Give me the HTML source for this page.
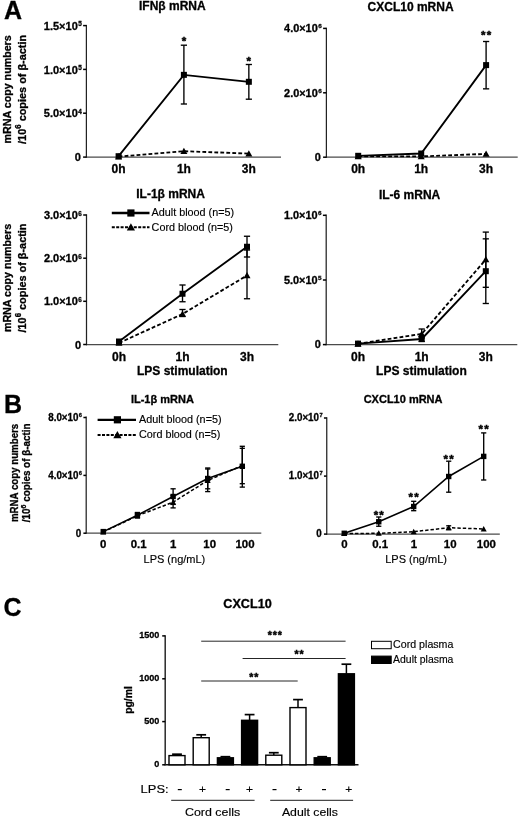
<!DOCTYPE html>
<html><head><meta charset="utf-8"><title>Figure</title>
<style>html,body{margin:0;padding:0;background:#fff}svg{display:block}text{font-family:"Liberation Sans",Arial,sans-serif;fill:#000}text{stroke:#000;stroke-width:.15px}text[font-weight=bold]{stroke-width:.3px}</style>
</head><body>
<svg width="520" height="818" viewBox="0 0 520 818">
<rect width="520" height="818" fill="#fff"/>
<text x="4" y="18.5" font-size="25" font-weight="bold" text-anchor="start">A</text>
<text x="4" y="412.7" font-size="25" font-weight="bold" text-anchor="start">B</text>
<text x="3.5" y="616" font-size="25" font-weight="bold" text-anchor="start">C</text>
<text x="172.3" y="9.6" font-size="12" font-weight="bold" text-anchor="middle">IFNβ mRNA</text>
<line x1="85.80000000000001" y1="157.1" x2="281" y2="157.1" stroke="#4a4a4a" stroke-width="1.3"/>
<line x1="86.4" y1="24.900000000000002" x2="86.4" y2="157.65" stroke="#222" stroke-width="1.25"/>
<line x1="83.10000000000001" y1="25.6" x2="86.4" y2="25.6" stroke="#000" stroke-width="1.5"/>
<text transform="translate(81.7,29.78) scale(1.0,1)" font-size="11" font-weight="bold" text-anchor="end">1.5×10<tspan dx="0.4" dy="-3.30" font-size="6.38">5</tspan></text>
<line x1="83.10000000000001" y1="69.4" x2="86.4" y2="69.4" stroke="#000" stroke-width="1.5"/>
<text transform="translate(81.7,73.58) scale(1.0,1)" font-size="11" font-weight="bold" text-anchor="end">1.0×10<tspan dx="0.4" dy="-3.30" font-size="6.38">5</tspan></text>
<line x1="83.10000000000001" y1="113.2" x2="86.4" y2="113.2" stroke="#000" stroke-width="1.5"/>
<text transform="translate(81.7,117.38) scale(1.0,1)" font-size="11" font-weight="bold" text-anchor="end">5.0×10<tspan dx="0.4" dy="-3.30" font-size="6.38">4</tspan></text>
<line x1="83.10000000000001" y1="157.1" x2="86.4" y2="157.1" stroke="#000" stroke-width="1.5"/>
<text transform="translate(80.9,161.28) scale(1.0,1)" font-size="11" font-weight="bold" text-anchor="end">0</text>
<text transform="translate(11.0,89.4) rotate(-90)" font-size="11.3" font-weight="bold" text-anchor="middle" textLength="108.2" lengthAdjust="spacingAndGlyphs">mRNA copy numbers</text>
<text transform="translate(26,89.4) rotate(-90)" font-size="11.3" font-weight="bold" text-anchor="middle" textLength="109" lengthAdjust="spacingAndGlyphs">/10<tspan dy="-4.52" font-size="8.14">6</tspan><tspan dy="4.52"> copies of β-actin</tspan></text>
<line x1="183.9" y1="45.2" x2="183.9" y2="104" stroke="#000" stroke-width="1.35"/>
<line x1="180.8" y1="45.2" x2="187.0" y2="45.2" stroke="#000" stroke-width="1.35"/>
<line x1="180.8" y1="104" x2="187.0" y2="104" stroke="#000" stroke-width="1.35"/>
<line x1="248.85" y1="64.5" x2="248.85" y2="99.2" stroke="#000" stroke-width="1.35"/>
<line x1="245.75" y1="64.5" x2="251.95" y2="64.5" stroke="#000" stroke-width="1.35"/>
<line x1="245.75" y1="99.2" x2="251.95" y2="99.2" stroke="#000" stroke-width="1.35"/>
<polyline points="118.6,156.2 183.9,74.85 248.85,81.8" fill="none" stroke="#000" stroke-width="1.85"/>
<rect x="115.6" y="153.2" width="6.0" height="6.0" fill="#000"/>
<rect x="180.9" y="71.85" width="6.0" height="6.0" fill="#000"/>
<rect x="245.85" y="78.8" width="6.0" height="6.0" fill="#000"/>
<polyline points="118.6,156.6 183.9,151.2 248.85,153.6" fill="none" stroke="#000" stroke-width="1.85" stroke-dasharray="3.8 2.2"/>
<polygon points="118.6,153.135 115.1,159.435 122.1,159.435" fill="#000"/>
<polygon points="183.9,147.73499999999999 180.4,154.035 187.4,154.035" fill="#000"/>
<polygon points="248.85,150.135 245.35,156.435 252.35,156.435" fill="#000"/>
<text x="183.9" y="44.9" font-size="11.5" font-weight="bold" text-anchor="middle" style="stroke-width:.45px">*</text>
<text x="248.85" y="65.2" font-size="11.5" font-weight="bold" text-anchor="middle" style="stroke-width:.45px">*</text>
<text x="118.6" y="173.1" font-size="12" font-weight="bold" text-anchor="middle">0h</text>
<text x="183.9" y="173.1" font-size="12" font-weight="bold" text-anchor="middle">1h</text>
<text x="248.85" y="173.1" font-size="12" font-weight="bold" text-anchor="middle">3h</text>
<text x="410.6" y="10.6" font-size="12" font-weight="bold" text-anchor="middle">CXCL10 mRNA</text>
<line x1="325.79999999999995" y1="157.2" x2="517.7" y2="157.2" stroke="#4a4a4a" stroke-width="1.3"/>
<line x1="326.4" y1="27.7" x2="326.4" y2="157.75" stroke="#222" stroke-width="1.25"/>
<line x1="323.09999999999997" y1="28.4" x2="326.4" y2="28.4" stroke="#000" stroke-width="1.5"/>
<text transform="translate(321.7,32.28) scale(1.07,1)" font-size="10.2" font-weight="bold" text-anchor="end">4.0×10<tspan dx="0.4" dy="-4.08" font-size="5.92">6</tspan></text>
<line x1="323.09999999999997" y1="92.8" x2="326.4" y2="92.8" stroke="#000" stroke-width="1.5"/>
<text transform="translate(321.7,96.68) scale(1.07,1)" font-size="10.2" font-weight="bold" text-anchor="end">2.0×10<tspan dx="0.4" dy="-4.08" font-size="5.92">6</tspan></text>
<line x1="323.09999999999997" y1="157.2" x2="326.4" y2="157.2" stroke="#000" stroke-width="1.5"/>
<text transform="translate(320.9,161.08) scale(1.07,1)" font-size="10.2" font-weight="bold" text-anchor="end">0</text>
<line x1="486.1" y1="41.5" x2="486.1" y2="88.85" stroke="#000" stroke-width="1.35"/>
<line x1="483.0" y1="41.5" x2="489.20000000000005" y2="41.5" stroke="#000" stroke-width="1.35"/>
<line x1="483.0" y1="88.85" x2="489.20000000000005" y2="88.85" stroke="#000" stroke-width="1.35"/>
<polyline points="358.2,155.8 421.2,153.5 486.1,65.1" fill="none" stroke="#000" stroke-width="1.85"/>
<rect x="355.2" y="152.8" width="6.0" height="6.0" fill="#000"/>
<rect x="418.2" y="150.5" width="6.0" height="6.0" fill="#000"/>
<rect x="483.1" y="62.099999999999994" width="6.0" height="6.0" fill="#000"/>
<polyline points="358.2,156.4 421.2,156.4 486.1,153.9" fill="none" stroke="#000" stroke-width="1.85" stroke-dasharray="3.8 2.2"/>
<polygon points="358.2,152.935 354.7,159.235 361.7,159.235" fill="#000"/>
<polygon points="421.2,152.935 417.7,159.235 424.7,159.235" fill="#000"/>
<polygon points="486.1,150.435 482.6,156.735 489.6,156.735" fill="#000"/>
<text x="486.725" y="38.8" font-size="11.5" font-weight="bold" text-anchor="middle" letter-spacing="1.25" style="stroke-width:.45px">**</text>
<text x="358.2" y="173.1" font-size="12" font-weight="bold" text-anchor="middle">0h</text>
<text x="421.2" y="173.1" font-size="12" font-weight="bold" text-anchor="middle">1h</text>
<text x="486.1" y="173.1" font-size="12" font-weight="bold" text-anchor="middle">3h</text>
<text x="170.6" y="198.2" font-size="12" font-weight="bold" text-anchor="middle">IL-1β mRNA</text>
<line x1="85.9" y1="344.7" x2="278.3" y2="344.7" stroke="#4a4a4a" stroke-width="1.3"/>
<line x1="86.5" y1="214.3" x2="86.5" y2="345.25" stroke="#222" stroke-width="1.25"/>
<line x1="83.2" y1="215" x2="86.5" y2="215" stroke="#000" stroke-width="1.5"/>
<text transform="translate(81.8,219.18) scale(1.0,1)" font-size="11" font-weight="bold" text-anchor="end">3.0×10<tspan dx="0.4" dy="-3.30" font-size="6.38">6</tspan></text>
<line x1="83.2" y1="258.2" x2="86.5" y2="258.2" stroke="#000" stroke-width="1.5"/>
<text transform="translate(81.8,262.38) scale(1.0,1)" font-size="11" font-weight="bold" text-anchor="end">2.0×10<tspan dx="0.4" dy="-3.30" font-size="6.38">6</tspan></text>
<line x1="83.2" y1="301.3" x2="86.5" y2="301.3" stroke="#000" stroke-width="1.5"/>
<text transform="translate(81.8,305.48) scale(1.0,1)" font-size="11" font-weight="bold" text-anchor="end">1.0×10<tspan dx="0.4" dy="-3.30" font-size="6.38">6</tspan></text>
<line x1="83.2" y1="344.5" x2="86.5" y2="344.5" stroke="#000" stroke-width="1.5"/>
<text transform="translate(81.0,348.68) scale(1.0,1)" font-size="11" font-weight="bold" text-anchor="end">0</text>
<text transform="translate(11.0,278) rotate(-90)" font-size="11.3" font-weight="bold" text-anchor="middle" textLength="108.2" lengthAdjust="spacingAndGlyphs">mRNA copy numbers</text>
<text transform="translate(26,278) rotate(-90)" font-size="11.3" font-weight="bold" text-anchor="middle" textLength="109" lengthAdjust="spacingAndGlyphs">/10<tspan dy="-4.52" font-size="8.14">6</tspan><tspan dy="4.52"> copies of β-actin</tspan></text>
<line x1="182.5" y1="285" x2="182.5" y2="301.75" stroke="#000" stroke-width="1.35"/>
<line x1="179.4" y1="285" x2="185.6" y2="285" stroke="#000" stroke-width="1.35"/>
<line x1="179.4" y1="301.75" x2="185.6" y2="301.75" stroke="#000" stroke-width="1.35"/>
<line x1="247" y1="236.25" x2="247" y2="257" stroke="#000" stroke-width="1.35"/>
<line x1="243.9" y1="236.25" x2="250.1" y2="236.25" stroke="#000" stroke-width="1.35"/>
<line x1="243.9" y1="257" x2="250.1" y2="257" stroke="#000" stroke-width="1.35"/>
<line x1="182.5" y1="309.5" x2="182.5" y2="316.5" stroke="#000" stroke-width="1.35"/>
<line x1="179.4" y1="309.5" x2="185.6" y2="309.5" stroke="#000" stroke-width="1.35"/>
<line x1="179.4" y1="316.5" x2="185.6" y2="316.5" stroke="#000" stroke-width="1.35"/>
<line x1="247" y1="250" x2="247" y2="298.75" stroke="#000" stroke-width="1.35"/>
<line x1="243.9" y1="250" x2="250.1" y2="250" stroke="#000" stroke-width="1.35"/>
<line x1="243.9" y1="298.75" x2="250.1" y2="298.75" stroke="#000" stroke-width="1.35"/>
<polyline points="119,341.5 182.5,293.75 247,246.75" fill="none" stroke="#000" stroke-width="1.85"/>
<rect x="116.0" y="338.5" width="6.0" height="6.0" fill="#000"/>
<rect x="179.5" y="290.75" width="6.0" height="6.0" fill="#000"/>
<rect x="244.0" y="243.75" width="6.0" height="6.0" fill="#000"/>
<polyline points="119,343 182.5,314 247,275.5" fill="none" stroke="#000" stroke-width="1.85" stroke-dasharray="3.8 2.2"/>
<polygon points="119,339.535 115.5,345.835 122.5,345.835" fill="#000"/>
<polygon points="182.5,310.535 179.0,316.835 186.0,316.835" fill="#000"/>
<polygon points="247,272.035 243.5,278.335 250.5,278.335" fill="#000"/>
<text x="119" y="360.8" font-size="12" font-weight="bold" text-anchor="middle">0h</text>
<text x="182.5" y="360.8" font-size="12" font-weight="bold" text-anchor="middle">1h</text>
<text x="247" y="360.8" font-size="12" font-weight="bold" text-anchor="middle">3h</text>
<text x="182.3" y="375" font-size="12" font-weight="bold" text-anchor="middle">LPS stimulation</text>
<line x1="111.8" y1="213" x2="149.5" y2="213" stroke="#000" stroke-width="2.3"/>
<rect x="127.30000000000001" y="209.4" width="7.2" height="7.2" fill="#000"/>
<text x="151.6" y="216.3" font-size="10.8" text-anchor="start">Adult blood (n=5)</text>
<line x1="111.8" y1="227.3" x2="149.5" y2="227.3" stroke="#000" stroke-width="2.1" stroke-dasharray="3 1.4"/>
<polygon points="130.9,223.241 126.80000000000001,230.621 135.0,230.621" fill="#000"/>
<text x="151.6" y="231.3" font-size="10.8" text-anchor="start">Cord blood (n=5)</text>
<text x="409.6" y="199.3" font-size="12" font-weight="bold" text-anchor="middle">IL-6 mRNA</text>
<line x1="325.59999999999997" y1="344.6" x2="517.3" y2="344.6" stroke="#4a4a4a" stroke-width="1.3"/>
<line x1="326.2" y1="214.60000000000002" x2="326.2" y2="345.15000000000003" stroke="#222" stroke-width="1.25"/>
<line x1="322.9" y1="215.3" x2="326.2" y2="215.3" stroke="#000" stroke-width="1.5"/>
<text transform="translate(321.5,219.18) scale(1.07,1)" font-size="10.2" font-weight="bold" text-anchor="end">1.0×10<tspan dx="0.4" dy="-4.08" font-size="5.92">6</tspan></text>
<line x1="322.9" y1="280" x2="326.2" y2="280" stroke="#000" stroke-width="1.5"/>
<text transform="translate(321.5,283.88) scale(1.07,1)" font-size="10.2" font-weight="bold" text-anchor="end">5.0×10<tspan dx="0.4" dy="-4.08" font-size="5.92">5</tspan></text>
<line x1="322.9" y1="344.6" x2="326.2" y2="344.6" stroke="#000" stroke-width="1.5"/>
<text transform="translate(320.7,348.48) scale(1.07,1)" font-size="10.2" font-weight="bold" text-anchor="end">0</text>
<line x1="485.8" y1="238.85" x2="485.8" y2="303.5" stroke="#000" stroke-width="1.35"/>
<line x1="482.7" y1="238.85" x2="488.90000000000003" y2="238.85" stroke="#000" stroke-width="1.35"/>
<line x1="482.7" y1="303.5" x2="488.90000000000003" y2="303.5" stroke="#000" stroke-width="1.35"/>
<line x1="485.8" y1="232.1" x2="485.8" y2="287.3" stroke="#000" stroke-width="1.35"/>
<line x1="482.7" y1="232.1" x2="488.90000000000003" y2="232.1" stroke="#000" stroke-width="1.35"/>
<line x1="482.7" y1="287.3" x2="488.90000000000003" y2="287.3" stroke="#000" stroke-width="1.35"/>
<line x1="421.7" y1="329" x2="421.7" y2="338" stroke="#000" stroke-width="1.35"/>
<line x1="418.59999999999997" y1="329" x2="424.8" y2="329" stroke="#000" stroke-width="1.35"/>
<line x1="418.59999999999997" y1="338" x2="424.8" y2="338" stroke="#000" stroke-width="1.35"/>
<line x1="421.7" y1="336.5" x2="421.7" y2="341.5" stroke="#000" stroke-width="1.35"/>
<line x1="418.59999999999997" y1="336.5" x2="424.8" y2="336.5" stroke="#000" stroke-width="1.35"/>
<line x1="418.59999999999997" y1="341.5" x2="424.8" y2="341.5" stroke="#000" stroke-width="1.35"/>
<polyline points="358,343.6 421.7,339 485.8,271.2" fill="none" stroke="#000" stroke-width="1.85"/>
<rect x="355.0" y="340.6" width="6.0" height="6.0" fill="#000"/>
<rect x="418.7" y="336.0" width="6.0" height="6.0" fill="#000"/>
<rect x="482.8" y="268.2" width="6.0" height="6.0" fill="#000"/>
<polyline points="358,343.8 421.7,333.9 485.8,259.5" fill="none" stroke="#000" stroke-width="1.85" stroke-dasharray="3.8 2.2"/>
<polygon points="358,340.33500000000004 354.5,346.635 361.5,346.635" fill="#000"/>
<polygon points="421.7,330.435 418.2,336.73499999999996 425.2,336.73499999999996" fill="#000"/>
<polygon points="485.8,256.035 482.3,262.335 489.3,262.335" fill="#000"/>
<text x="358" y="360.6" font-size="12" font-weight="bold" text-anchor="middle">0h</text>
<text x="421.7" y="360.6" font-size="12" font-weight="bold" text-anchor="middle">1h</text>
<text x="485.8" y="360.6" font-size="12" font-weight="bold" text-anchor="middle">3h</text>
<text x="421.4" y="374.5" font-size="12" font-weight="bold" text-anchor="middle">LPS stimulation</text>
<text x="162.4" y="403" font-size="11" font-weight="bold" text-anchor="middle">IL-1β mRNA</text>
<line x1="85.60000000000001" y1="533.2" x2="261.3" y2="533.2" stroke="#4a4a4a" stroke-width="1.3"/>
<line x1="86.2" y1="416.40000000000003" x2="86.2" y2="533.75" stroke="#222" stroke-width="1.25"/>
<line x1="83.4" y1="417.5" x2="86.2" y2="417.5" stroke="#000" stroke-width="1.5"/>
<text transform="translate(82.0,420.80) scale(0.98,1)" font-size="10" font-weight="bold" text-anchor="end">8.0×10<tspan dx="0.4" dy="-4.00" font-size="5.80">6</tspan></text>
<line x1="83.4" y1="475.4" x2="86.2" y2="475.4" stroke="#000" stroke-width="1.5"/>
<text transform="translate(82.0,478.70) scale(0.98,1)" font-size="10" font-weight="bold" text-anchor="end">4.0×10<tspan dx="0.4" dy="-4.00" font-size="5.80">6</tspan></text>
<line x1="83.4" y1="533.2" x2="86.2" y2="533.2" stroke="#000" stroke-width="1.5"/>
<text transform="translate(81.2,536.50) scale(0.98,1)" font-size="10" font-weight="bold" text-anchor="end">0</text>
<text transform="translate(17.8,472.9) rotate(-90)" font-size="10.2" font-weight="bold" text-anchor="middle" textLength="98.2" lengthAdjust="spacingAndGlyphs">mRNA copy numbers</text>
<text transform="translate(29.9,472.9) rotate(-90)" font-size="10.2" font-weight="bold" text-anchor="middle" textLength="98.7" lengthAdjust="spacingAndGlyphs">/10<tspan dy="-4.08" font-size="7.34">6</tspan><tspan dy="4.08"> copies of β-actin</tspan></text>
<line x1="137.4" y1="512.5" x2="137.4" y2="518" stroke="#000" stroke-width="1.35"/>
<line x1="134.8" y1="512.5" x2="140.0" y2="512.5" stroke="#000" stroke-width="1.35"/>
<line x1="134.8" y1="518" x2="140.0" y2="518" stroke="#000" stroke-width="1.35"/>
<line x1="173.1" y1="488.8" x2="173.1" y2="504.4" stroke="#000" stroke-width="1.35"/>
<line x1="170.5" y1="488.8" x2="175.7" y2="488.8" stroke="#000" stroke-width="1.35"/>
<line x1="170.5" y1="504.4" x2="175.7" y2="504.4" stroke="#000" stroke-width="1.35"/>
<line x1="207.7" y1="468" x2="207.7" y2="488.8" stroke="#000" stroke-width="1.35"/>
<line x1="205.1" y1="468" x2="210.29999999999998" y2="468" stroke="#000" stroke-width="1.35"/>
<line x1="205.1" y1="488.8" x2="210.29999999999998" y2="488.8" stroke="#000" stroke-width="1.35"/>
<line x1="242.3" y1="446.3" x2="242.3" y2="483.7" stroke="#000" stroke-width="1.35"/>
<line x1="239.70000000000002" y1="446.3" x2="244.9" y2="446.3" stroke="#000" stroke-width="1.35"/>
<line x1="239.70000000000002" y1="483.7" x2="244.9" y2="483.7" stroke="#000" stroke-width="1.35"/>
<line x1="173.1" y1="495.5" x2="173.1" y2="507.9" stroke="#000" stroke-width="1.35"/>
<line x1="170.5" y1="495.5" x2="175.7" y2="495.5" stroke="#000" stroke-width="1.35"/>
<line x1="170.5" y1="507.9" x2="175.7" y2="507.9" stroke="#000" stroke-width="1.35"/>
<line x1="207.7" y1="469" x2="207.7" y2="491.6" stroke="#000" stroke-width="1.35"/>
<line x1="205.1" y1="469" x2="210.29999999999998" y2="469" stroke="#000" stroke-width="1.35"/>
<line x1="205.1" y1="491.6" x2="210.29999999999998" y2="491.6" stroke="#000" stroke-width="1.35"/>
<line x1="242.3" y1="448.3" x2="242.3" y2="487.1" stroke="#000" stroke-width="1.35"/>
<line x1="239.70000000000002" y1="448.3" x2="244.9" y2="448.3" stroke="#000" stroke-width="1.35"/>
<line x1="239.70000000000002" y1="487.1" x2="244.9" y2="487.1" stroke="#000" stroke-width="1.35"/>
<polyline points="103.25,531.6 137.4,515.3 173.1,496.5 207.7,478.5 242.3,466.3" fill="none" stroke="#000" stroke-width="1.6"/>
<rect x="100.55" y="528.9" width="5.4" height="5.4" fill="#000"/>
<rect x="134.70000000000002" y="512.5999999999999" width="5.4" height="5.4" fill="#000"/>
<rect x="170.4" y="493.8" width="5.4" height="5.4" fill="#000"/>
<rect x="205.0" y="475.8" width="5.4" height="5.4" fill="#000"/>
<rect x="239.60000000000002" y="463.6" width="5.4" height="5.4" fill="#000"/>
<polyline points="103.25,532 137.4,515.8 173.1,502.2 207.7,480.5 242.3,465.5" fill="none" stroke="#000" stroke-width="1.5" stroke-dasharray="3.4 2"/>
<polygon points="103.25,529.03 100.25,534.43 106.25,534.43" fill="#000"/>
<polygon points="137.4,512.8299999999999 134.4,518.2299999999999 140.4,518.2299999999999" fill="#000"/>
<polygon points="173.1,499.22999999999996 170.1,504.63 176.1,504.63" fill="#000"/>
<polygon points="207.7,477.53 204.7,482.93 210.7,482.93" fill="#000"/>
<polygon points="242.3,462.53 239.3,467.93 245.3,467.93" fill="#000"/>
<text x="103.3" y="547.7" font-size="11" font-weight="bold" text-anchor="middle" textLength="6.36" lengthAdjust="spacingAndGlyphs">0</text>
<text x="138.6" y="547.7" font-size="11" font-weight="bold" text-anchor="middle" textLength="15.90" lengthAdjust="spacingAndGlyphs">0.1</text>
<text x="173.2" y="547.7" font-size="11" font-weight="bold" text-anchor="middle" textLength="6.36" lengthAdjust="spacingAndGlyphs">1</text>
<text x="209.7" y="547.7" font-size="11" font-weight="bold" text-anchor="middle" textLength="12.72" lengthAdjust="spacingAndGlyphs">10</text>
<text x="245" y="547.7" font-size="11" font-weight="bold" text-anchor="middle" textLength="19.09" lengthAdjust="spacingAndGlyphs">100</text>
<text x="174.4" y="562.6" font-size="11" text-anchor="middle">LPS (ng/mL)</text>
<line x1="97.6" y1="419.8" x2="136" y2="419.8" stroke="#000" stroke-width="2.3"/>
<rect x="113.80000000000001" y="416.2" width="7.2" height="7.2" fill="#000"/>
<text x="139" y="422.6" font-size="10.8" text-anchor="start">Adult blood (n=5)</text>
<line x1="97.6" y1="435" x2="136" y2="435" stroke="#000" stroke-width="2.1" stroke-dasharray="3 1.4"/>
<polygon points="117.4,430.941 113.30000000000001,438.321 121.5,438.321" fill="#000"/>
<text x="139" y="438" font-size="10.8" text-anchor="start">Cord blood (n=5)</text>
<text x="403.1" y="403.1" font-size="11" font-weight="bold" text-anchor="middle">CXCL10 mRNA</text>
<line x1="326.15" y1="534.1" x2="499.8" y2="534.1" stroke="#4a4a4a" stroke-width="1.3"/>
<line x1="326.75" y1="417.3" x2="326.75" y2="534.65" stroke="#222" stroke-width="1.25"/>
<line x1="323.95" y1="418" x2="326.75" y2="418" stroke="#000" stroke-width="1.5"/>
<text transform="translate(322.55,421.30) scale(0.98,1)" font-size="10" font-weight="bold" text-anchor="end">2.0×10<tspan dx="0.4" dy="-4.00" font-size="5.80">7</tspan></text>
<line x1="323.95" y1="476.1" x2="326.75" y2="476.1" stroke="#000" stroke-width="1.5"/>
<text transform="translate(322.55,479.40) scale(0.98,1)" font-size="10" font-weight="bold" text-anchor="end">1.0×10<tspan dx="0.4" dy="-4.00" font-size="5.80">7</tspan></text>
<line x1="323.95" y1="534.1" x2="326.75" y2="534.1" stroke="#000" stroke-width="1.5"/>
<text transform="translate(321.75,537.40) scale(0.98,1)" font-size="10" font-weight="bold" text-anchor="end">0</text>
<line x1="378.75" y1="517" x2="378.75" y2="526.25" stroke="#000" stroke-width="1.35"/>
<line x1="376.15" y1="517" x2="381.35" y2="517" stroke="#000" stroke-width="1.35"/>
<line x1="376.15" y1="526.25" x2="381.35" y2="526.25" stroke="#000" stroke-width="1.35"/>
<line x1="413.7" y1="501.3" x2="413.7" y2="510.7" stroke="#000" stroke-width="1.35"/>
<line x1="411.09999999999997" y1="501.3" x2="416.3" y2="501.3" stroke="#000" stroke-width="1.35"/>
<line x1="411.09999999999997" y1="510.7" x2="416.3" y2="510.7" stroke="#000" stroke-width="1.35"/>
<line x1="448.7" y1="461.2" x2="448.7" y2="492.2" stroke="#000" stroke-width="1.35"/>
<line x1="446.09999999999997" y1="461.2" x2="451.3" y2="461.2" stroke="#000" stroke-width="1.35"/>
<line x1="446.09999999999997" y1="492.2" x2="451.3" y2="492.2" stroke="#000" stroke-width="1.35"/>
<line x1="483.7" y1="432.9" x2="483.7" y2="480" stroke="#000" stroke-width="1.35"/>
<line x1="481.09999999999997" y1="432.9" x2="486.3" y2="432.9" stroke="#000" stroke-width="1.35"/>
<line x1="481.09999999999997" y1="480" x2="486.3" y2="480" stroke="#000" stroke-width="1.35"/>
<line x1="448.7" y1="525.8" x2="448.7" y2="529.6" stroke="#000" stroke-width="1.35"/>
<line x1="446.2" y1="525.8" x2="451.2" y2="525.8" stroke="#000" stroke-width="1.35"/>
<line x1="446.2" y1="529.6" x2="451.2" y2="529.6" stroke="#000" stroke-width="1.35"/>
<polyline points="344.25,533.3 378.75,521.75 413.7,506.5 448.7,476.5 483.7,456.4" fill="none" stroke="#000" stroke-width="1.6"/>
<rect x="341.55" y="530.5999999999999" width="5.4" height="5.4" fill="#000"/>
<rect x="376.05" y="519.05" width="5.4" height="5.4" fill="#000"/>
<rect x="411.0" y="503.8" width="5.4" height="5.4" fill="#000"/>
<rect x="446.0" y="473.8" width="5.4" height="5.4" fill="#000"/>
<rect x="481.0" y="453.7" width="5.4" height="5.4" fill="#000"/>
<polyline points="344.25,533.6 378.75,533.3 413.7,531.7 448.7,527.7 483.7,529" fill="none" stroke="#000" stroke-width="1.5" stroke-dasharray="3.4 2"/>
<polygon points="344.25,530.63 341.25,536.03 347.25,536.03" fill="#000"/>
<polygon points="378.75,530.3299999999999 375.75,535.7299999999999 381.75,535.7299999999999" fill="#000"/>
<polygon points="413.7,528.73 410.7,534.13 416.7,534.13" fill="#000"/>
<polygon points="448.7,524.73 445.7,530.13 451.7,530.13" fill="#000"/>
<polygon points="483.7,526.03 480.7,531.43 486.7,531.43" fill="#000"/>
<text x="379.375" y="518.8" font-size="11.5" font-weight="bold" text-anchor="middle" letter-spacing="1.25" style="stroke-width:.45px">**</text>
<text x="414.325" y="501.3" font-size="11.5" font-weight="bold" text-anchor="middle" letter-spacing="1.25" style="stroke-width:.45px">**</text>
<text x="449.325" y="463.4" font-size="11.5" font-weight="bold" text-anchor="middle" letter-spacing="1.25" style="stroke-width:.45px">**</text>
<text x="484.325" y="432.7" font-size="11.5" font-weight="bold" text-anchor="middle" letter-spacing="1.25" style="stroke-width:.45px">**</text>
<text x="344.4" y="548.2" font-size="11" font-weight="bold" text-anchor="middle" textLength="6.36" lengthAdjust="spacingAndGlyphs">0</text>
<text x="380.2" y="548.2" font-size="11" font-weight="bold" text-anchor="middle" textLength="15.90" lengthAdjust="spacingAndGlyphs">0.1</text>
<text x="413.9" y="548.2" font-size="11" font-weight="bold" text-anchor="middle" textLength="6.36" lengthAdjust="spacingAndGlyphs">1</text>
<text x="450.2" y="548.2" font-size="11" font-weight="bold" text-anchor="middle" textLength="12.72" lengthAdjust="spacingAndGlyphs">10</text>
<text x="486.4" y="548.2" font-size="11" font-weight="bold" text-anchor="middle" textLength="19.09" lengthAdjust="spacingAndGlyphs">100</text>
<text x="416.1" y="562.8" font-size="11" text-anchor="middle">LPS (ng/mL)</text>
<text x="247.5" y="607.7" font-size="12" font-weight="bold" text-anchor="middle" textLength="48.50" lengthAdjust="spacingAndGlyphs">CXCL10</text>
<line x1="164.6" y1="764.8" x2="358.5" y2="764.8" stroke="#111" stroke-width="1.45"/>
<line x1="165.2" y1="635.1999999999999" x2="165.2" y2="765.3499999999999" stroke="#222" stroke-width="1.45"/>
<line x1="162.2" y1="635.9" x2="165.2" y2="635.9" stroke="#000" stroke-width="1.5"/>
<text transform="translate(159.4,638.42) scale(0.93,1)" font-size="9.8" font-weight="bold" text-anchor="end">1500</text>
<line x1="162.2" y1="678.8" x2="165.2" y2="678.8" stroke="#000" stroke-width="1.5"/>
<text transform="translate(159.4,681.32) scale(0.93,1)" font-size="9.8" font-weight="bold" text-anchor="end">1000</text>
<line x1="162.2" y1="721.6" x2="165.2" y2="721.6" stroke="#000" stroke-width="1.5"/>
<text transform="translate(159.4,724.12) scale(0.93,1)" font-size="9.8" font-weight="bold" text-anchor="end">500</text>
<line x1="162.2" y1="764.8" x2="165.2" y2="764.8" stroke="#000" stroke-width="1.5"/>
<text transform="translate(159.4,767.32) scale(0.93,1)" font-size="9.8" font-weight="bold" text-anchor="end">0</text>
<text transform="translate(132,700) rotate(-90)" font-size="10" font-weight="bold" text-anchor="middle" textLength="27.6" lengthAdjust="spacingAndGlyphs">pg/ml</text>
<line x1="177" y1="754.2" x2="177" y2="755.6" stroke="#000" stroke-width="1.5"/>
<line x1="172.1" y1="754.2" x2="181.9" y2="754.2" stroke="#000" stroke-width="1.7"/>
<rect x="169.0" y="755.6" width="16" height="9.199999999999932" fill="#fff" stroke="#000" stroke-width="1.4"/>
<line x1="177.8" y1="789.6" x2="181.8" y2="789.6" stroke="#000" stroke-width="1.2"/>
<line x1="201.2" y1="734.8" x2="201.2" y2="737.7" stroke="#000" stroke-width="1.5"/>
<line x1="196.29999999999998" y1="734.8" x2="206.1" y2="734.8" stroke="#000" stroke-width="1.7"/>
<rect x="193.2" y="737.7" width="16" height="27.09999999999991" fill="#fff" stroke="#000" stroke-width="1.4"/>
<text x="202.6" y="793" font-size="11" text-anchor="middle" textLength="7.00" lengthAdjust="spacingAndGlyphs">+</text>
<line x1="225.4" y1="756.7" x2="225.4" y2="757.8" stroke="#000" stroke-width="1.5"/>
<line x1="220.5" y1="756.7" x2="230.3" y2="756.7" stroke="#000" stroke-width="1.7"/>
<rect x="217.4" y="757.8" width="16" height="7.0" fill="#000" stroke="#000" stroke-width="1.4"/>
<line x1="225.7" y1="789.6" x2="229.7" y2="789.6" stroke="#000" stroke-width="1.2"/>
<line x1="249.6" y1="714.6" x2="249.6" y2="720.3" stroke="#000" stroke-width="1.5"/>
<line x1="244.7" y1="714.6" x2="254.5" y2="714.6" stroke="#000" stroke-width="1.7"/>
<rect x="241.6" y="720.3" width="16" height="44.5" fill="#000" stroke="#000" stroke-width="1.4"/>
<text x="249.6" y="793" font-size="11" text-anchor="middle" textLength="7.00" lengthAdjust="spacingAndGlyphs">+</text>
<line x1="273.8" y1="752.7" x2="273.8" y2="755.2" stroke="#000" stroke-width="1.5"/>
<line x1="268.90000000000003" y1="752.7" x2="278.7" y2="752.7" stroke="#000" stroke-width="1.7"/>
<rect x="265.8" y="755.2" width="16" height="9.599999999999909" fill="#fff" stroke="#000" stroke-width="1.4"/>
<line x1="272.5" y1="789.6" x2="276.5" y2="789.6" stroke="#000" stroke-width="1.2"/>
<line x1="298" y1="699.6" x2="298" y2="707.6" stroke="#000" stroke-width="1.5"/>
<line x1="293.1" y1="699.6" x2="302.9" y2="699.6" stroke="#000" stroke-width="1.7"/>
<rect x="290.0" y="707.6" width="16" height="57.19999999999993" fill="#fff" stroke="#000" stroke-width="1.4"/>
<text x="299" y="793" font-size="11" text-anchor="middle" textLength="7.00" lengthAdjust="spacingAndGlyphs">+</text>
<line x1="322.2" y1="756.7" x2="322.2" y2="757.8" stroke="#000" stroke-width="1.5"/>
<line x1="317.3" y1="756.7" x2="327.09999999999997" y2="756.7" stroke="#000" stroke-width="1.7"/>
<rect x="314.2" y="757.8" width="16" height="7.0" fill="#000" stroke="#000" stroke-width="1.4"/>
<line x1="322" y1="789.6" x2="326" y2="789.6" stroke="#000" stroke-width="1.2"/>
<line x1="346.4" y1="664.2" x2="346.4" y2="673.8" stroke="#000" stroke-width="1.5"/>
<line x1="341.5" y1="664.2" x2="351.29999999999995" y2="664.2" stroke="#000" stroke-width="1.7"/>
<rect x="338.4" y="673.8" width="16" height="91.0" fill="#000" stroke="#000" stroke-width="1.4"/>
<text x="348.8" y="793" font-size="11" text-anchor="middle" textLength="7.00" lengthAdjust="spacingAndGlyphs">+</text>
<line x1="201.2" y1="641.2" x2="345.6" y2="641.2" stroke="#000" stroke-width="1.0" opacity="0.85"/>
<text x="275.34999999999997" y="639.2" font-size="10.5" font-weight="bold" text-anchor="middle" letter-spacing="0.9" style="stroke-width:.45px">***</text>
<line x1="242.6" y1="658.5" x2="345.6" y2="658.5" stroke="#000" stroke-width="1.0" opacity="0.85"/>
<text x="299.45" y="657.6" font-size="10.5" font-weight="bold" text-anchor="middle" letter-spacing="0.9" style="stroke-width:.45px">**</text>
<line x1="201.2" y1="681" x2="297.7" y2="681" stroke="#000" stroke-width="1.0" opacity="0.85"/>
<text x="254.35" y="681.2" font-size="10.5" font-weight="bold" text-anchor="middle" letter-spacing="0.9" style="stroke-width:.45px">**</text>
<text x="140.6" y="793" font-size="11" text-anchor="start" textLength="28.00" lengthAdjust="spacingAndGlyphs">LPS:</text>
<line x1="171.2" y1="800.3" x2="254.6" y2="800.3" stroke="#000" stroke-width="0.9"/>
<line x1="270.2" y1="800.3" x2="353.1" y2="800.3" stroke="#000" stroke-width="0.9"/>
<text x="212.6" y="816.2" font-size="11" text-anchor="middle" textLength="55.20" lengthAdjust="spacingAndGlyphs">Cord cells</text>
<text x="309.9" y="816.2" font-size="11" text-anchor="middle" textLength="56.00" lengthAdjust="spacingAndGlyphs">Adult cells</text>
<rect x="371.5" y="641.3" width="19.7" height="7.4" fill="#fff" stroke="#000" stroke-width="1"/>
<text x="393.1" y="648.3" font-size="10.5" text-anchor="start" textLength="60.30" lengthAdjust="spacingAndGlyphs">Cord plasma</text>
<rect x="371.5" y="656.1" width="19.7" height="7.4" fill="#000" stroke="#000" stroke-width="1"/>
<text x="393.1" y="663.1" font-size="10.5" text-anchor="start" textLength="60.30" lengthAdjust="spacingAndGlyphs">Adult plasma</text>
</svg></body></html>
